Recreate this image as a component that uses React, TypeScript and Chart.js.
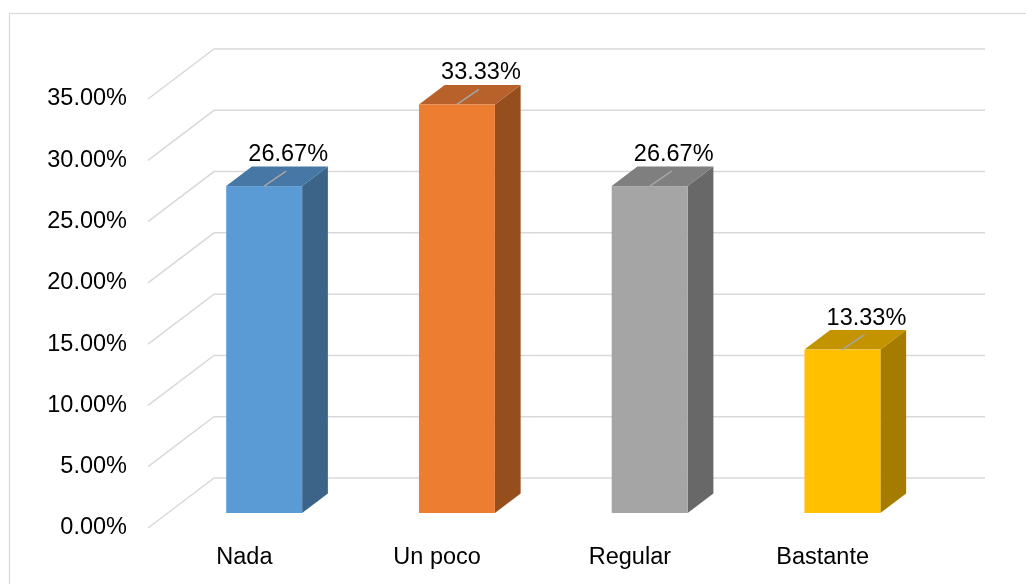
import React, { useEffect, useRef } from "react";
import { Chart, registerables } from "chart.js";

Chart.register(...registerables);

const categories = ["Nada", "Un poco", "Regular", "Bastante"];
const percentages = [26.67, 33.33, 26.67, 13.33];
const yTicksMin = 0;
const yTicksMax = 35;
const yTickStep = 5;

const frontColors = ["#5B9BD5", "#ED7D31", "#A5A5A5", "#FFC000"];
const topColors = ["#4777A5", "#B8612A", "#7F7F7F", "#C49300"];
const sideColors = ["#3B6488", "#974E1F", "#686868", "#A57B00"];

const FONT_FAMILY = "'Liberation Sans', Arial, sans-serif";
const FONT_SIZE = 23.5;

// oblique projection of the back wall and the bar depth
const WALL_DX = 66;
const WALL_DY = 50;
const BAR_FRONT = 0.3;
const BAR_BACK = 0.69;

const GRID_COLOR = "#D9D9D9";

const framePlugin = {
  id: "frame3d",
  beforeDraw(chart: any) {
    const { ctx, chartArea, scales } = chart;
    ctx.save();
    ctx.fillStyle = "#FFFFFF";
    ctx.fillRect(0, 0, chart.width, chart.height);
    ctx.strokeStyle = GRID_COLOR;
    ctx.lineWidth = 1.2;
    ctx.strokeRect(9.5, 13.5, chart.width + 20, chart.height + 20);

    const y = scales.y;
    ctx.lineWidth = 1.5;
    for (let v = yTicksMin; v <= yTicksMax; v += yTickStep) {
      const py = y.getPixelForValue(v);
      ctx.beginPath();
      ctx.moveTo(chartArea.left, py);
      ctx.lineTo(chartArea.left + WALL_DX, py - WALL_DY);
      ctx.lineTo(chartArea.right + WALL_DX, py - WALL_DY);
      ctx.stroke();
    }
    ctx.restore();
  },
  afterDatasetsDraw(chart: any) {
    const { ctx } = chart;
    const meta = chart.getDatasetMeta(0);
    const fdx = WALL_DX * BAR_FRONT;
    const fdy = WALL_DY * BAR_FRONT;
    const bdx = WALL_DX * (BAR_BACK - BAR_FRONT);
    const bdy = WALL_DY * (BAR_BACK - BAR_FRONT);
    ctx.save();
    meta.data.forEach((bar: any, i: number) => {
      const p = bar.getProps(["x", "y", "base", "width"], true);
      const xl = p.x - p.width / 2 + fdx;
      const xr = p.x + p.width / 2 + fdx;
      const yt = p.y - fdy;
      const yb = p.base - fdy;

      // side face
      ctx.fillStyle = sideColors[i];
      ctx.beginPath();
      ctx.moveTo(xr, yt);
      ctx.lineTo(xr + bdx, yt - bdy);
      ctx.lineTo(xr + bdx, yb - bdy);
      ctx.lineTo(xr, yb);
      ctx.closePath();
      ctx.fill();

      // top face
      ctx.fillStyle = topColors[i];
      ctx.beginPath();
      ctx.moveTo(xl, yt);
      ctx.lineTo(xr, yt);
      ctx.lineTo(xr + bdx, yt - bdy);
      ctx.lineTo(xl + bdx, yt - bdy);
      ctx.closePath();
      ctx.fill();

      // front face
      ctx.fillStyle = frontColors[i];
      ctx.fillRect(xl, yt, xr - xl, yb - yt);

      // leader line
      const cx = (xl + xr) / 2;
      ctx.strokeStyle = "#A6A6A6";
      ctx.lineWidth = 1.5;
      ctx.beginPath();
      ctx.moveTo(cx, yt);
      ctx.lineTo(cx + 22, yt - 15);
      ctx.stroke();

      // value label
      ctx.fillStyle = "#000000";
      ctx.font = `${FONT_SIZE}px ${FONT_FAMILY}`;
      ctx.textAlign = "center";
      ctx.textBaseline = "alphabetic";
      ctx.fillText(percentages[i].toFixed(2) + "%", cx + 24, yt - 25);
    });
    ctx.restore();
  },
};

export default function App() {
  const canvasRef = useRef<HTMLCanvasElement | null>(null);

  useEffect(() => {
    if (!canvasRef.current) return;
    const chart = new Chart(canvasRef.current, {
      type: "bar",
      data: {
        labels: categories,
        datasets: [
          {
            data: percentages,
            backgroundColor: "rgba(0,0,0,0)",
            borderWidth: 0,
            categoryPercentage: 1,
            barPercentage: 0.394,
          },
        ],
      },
      options: {
        animation: false,
        responsive: true,
        maintainAspectRatio: false,
        layout: { padding: { top: 99, right: 107, bottom: 0, left: 0 } },
        plugins: {
          legend: { display: false },
          tooltip: { enabled: false },
        },
        scales: {
          x: {
            grid: { display: false, drawTicks: false },
            border: { display: false },
            ticks: {
              color: "#000000",
              padding: 15,
              font: { family: FONT_FAMILY, size: FONT_SIZE },
            },
            afterFit: (scale: any) => {
              scale.height = 56;
            },
          },
          y: {
            min: yTicksMin,
            max: yTicksMax,
            grid: { display: false, drawTicks: false },
            border: { display: false },
            ticks: {
              stepSize: yTickStep,
              color: "#000000",
              padding: 21,
              font: { family: FONT_FAMILY, size: FONT_SIZE },
              callback: (v: any) => Number(v).toFixed(2) + "%",
            },
            afterFit: (scale: any) => {
              scale.width = 148;
            },
          },
        },
      },
      plugins: [framePlugin],
    });
    return () => chart.destroy();
  }, []);

  return (
    <div style={{ position: "fixed", left: 0, top: 0, width: 1026, height: 584 }}>
      <canvas ref={canvasRef} />
    </div>
  );
}
